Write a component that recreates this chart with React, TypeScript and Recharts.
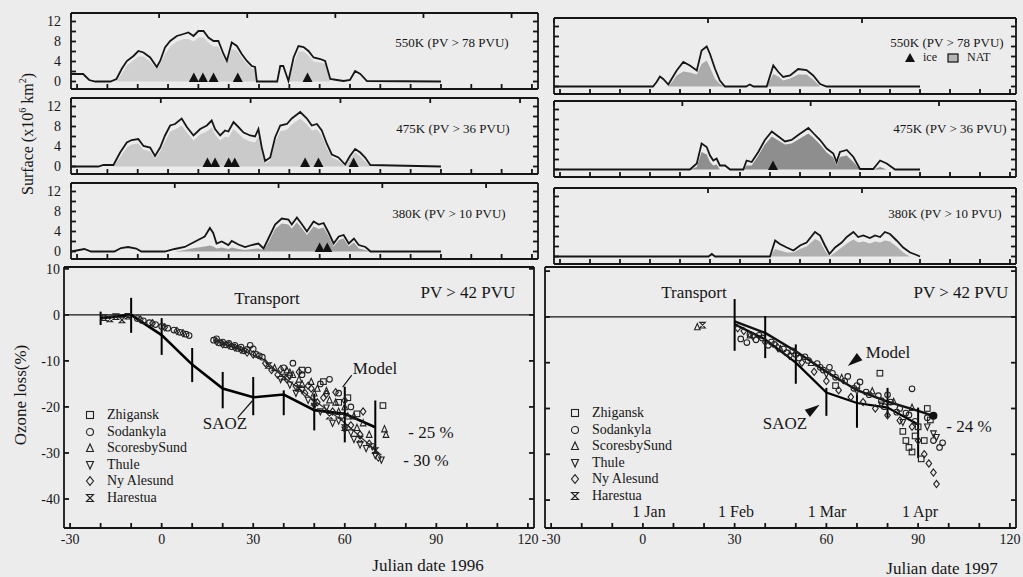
import React from "react";
import {
  ComposedChart,
  Area,
  Line,
  Scatter,
  XAxis,
  YAxis,
  ReferenceLine,
  ErrorBar,
} from "recharts";

const FONT = '"Liberation Serif", "DejaVu Serif", serif';
const INK = "#161616";
const BG = "#ececec";

// shared x axis (Julian day)
const xDomain = [-32, 122];
const xTicks = [-30, -20, -10, 0, 10, 20, 30, 40, 50, 60, 70, 80, 90, 100, 110, 120];
const surfDomain = [-1.5, 13.7];
const surfTicks = [0, 2, 4, 6, 8, 10, 12];
const lossTicks = [-40, -30, -20, -10, 0, 10];

// ---- vortex surface panels (x10^6 km2): days, vortex area, NAT area ----
const lt550Days = [-32, -28, -26, -24, -19, -17, -15.3, -13.6, -11.4, -9.8, -8.1, -5.9, -3.7, -2.6, -1, 0.7, 2.9, 5.1, 6.7, 8.4, 10, 11.7, 13.3, 15, 16.6, 18.3, 19.4, 21, 22.7, 24.3, 26, 27.6, 28.7, 29.3, 30, 36, 37, 38, 39.7, 41.4, 43, 44.7, 46.3, 48, 50.2, 51.8, 53.5, 55.7, 57.9, 60, 61.7, 63.4, 65.6, 90];
const lt550Vortex = [1.5, 1.5, 0.3, 0, 0, 0.5, 2.5, 4.1, 5.1, 6.1, 5.8, 4.8, 2.9, 4.1, 6.8, 8.1, 9.1, 9.5, 9.8, 9.1, 10.1, 10.1, 8.8, 8.1, 8.1, 5.5, 4.1, 7.8, 7.1, 5.5, 4.1, 3.1, 2.9, 0, 0, 0, 3.1, 3.1, 0.1, 4.8, 7.1, 6.9, 6.1, 4.8, 4.5, 4.1, 0.5, 0.3, 0.1, 0.3, 2.1, 1.5, 0.1, 0];
const lt550Nat = [0, 0, 0, 0, 0, 0, 1.5, 3.2, 4.2, 5, 5, 4, 2.5, 3.5, 5.5, 7, 8, 8.5, 8.5, 8, 8.8, 8.8, 7.8, 7, 7, 4.8, 3.6, 6.5, 6.2, 4.8, 3.5, 2.6, 2.4, 0, 0, 0, 0, 0, 0, 3.5, 6, 6, 5.2, 4, 3.8, 3.5, 0, 0, 0, 0, 0, 0, 0, 0];
const lt550Ice = [8.5, 11.5, 15, 23, 46];

const lt475Days = [-32, -23, -21.3, -18, -15.8, -13.6, -12, -9.8, -8.1, -5.9, -4.3, -2.6, -1, 0.7, 2.3, 4.5, 6.2, 8.4, 10.6, 12.8, 14.4, 15.5, 17.2, 18.8, 19.9, 21.6, 23.2, 24.9, 27.1, 28.7, 29.8, 30.9, 32, 33.7, 35.3, 37, 39.2, 40.8, 43.6, 45.8, 47.4, 49.1, 50.7, 52.4, 54, 56.2, 58.4, 60, 61.7, 63.4, 65, 66.7, 90];
const lt475Vortex = [0, 0, 0.3, 0.3, 2.8, 4.8, 5.3, 5.5, 4.1, 3.8, 2.1, 3.8, 6.2, 8.2, 8.5, 9.6, 7.9, 6.2, 7.5, 8.2, 9.2, 7.5, 6.2, 7.2, 7, 8.9, 7.9, 6.8, 6.2, 6, 7.5, 3.8, 1.1, 1.8, 5.8, 8.2, 8.5, 9.6, 10.9, 9.6, 8.2, 8.5, 7.2, 4.5, 2.4, 1.8, 0.4, 2.1, 3.5, 2.8, 1.8, 0.3, 0];
const lt475Nat = [0, 0, 0, 0, 1.8, 3.8, 4.4, 4.6, 3.4, 3, 1.5, 3, 5, 7, 7.4, 8.2, 6.8, 5.2, 6.4, 7, 7.8, 6.4, 5.2, 6, 5.8, 7.5, 6.6, 5.6, 5, 4.8, 6, 2.8, 0.6, 1.2, 4.8, 7, 7.4, 8.4, 9.6, 8.4, 7.2, 7.4, 6.2, 3.6, 1.8, 1.2, 0, 1.4, 2.8, 2, 1, 0, 0];
const lt475Ice = [13, 15.5, 20, 22, 45.2, 49.6, 61.2];

const lt380Days = [-32, -27.6, -25.4, -17.7, -15.5, -13.2, -10.5, -8.8, -1.1, 2.2, 5.5, 7.7, 9.9, 12.1, 13.8, 14.9, 16, 17.7, 19.9, 21, 23.2, 25.4, 27.6, 29.8, 31.5, 33.1, 35.3, 37.5, 39.7, 40.8, 42.5, 44.2, 45.8, 48, 49.7, 51.3, 53, 54.6, 56.3, 57.9, 59.6, 61.3, 62.9, 65.1, 66.8, 90];
const lt380Vortex = [0, 0.5, 0, 0, 0.7, 0.9, 0.6, 0, 0, 0.5, 0.9, 1.6, 2.3, 3, 4.7, 3.7, 1.6, 2, 1.3, 2.1, 1.4, 0.9, 1.3, 1.6, 0.6, 2.6, 5.4, 6.6, 6.4, 5.4, 6.8, 5.4, 4, 6, 5.4, 5.7, 3.7, 1.6, 3, 3.3, 1.6, 2.6, 1.3, 0.9, 0, 0];
const lt380Nat = [0, 0, 0, 0, 0, 0, 0, 0, 0, 0, 0.3, 0.6, 0.8, 1, 1.2, 1, 0.6, 0.8, 0.5, 0.8, 0.5, 0.3, 0.5, 0.6, 0.3, 1.8, 4.5, 5.6, 5.4, 4.6, 5.8, 4.6, 3.3, 5, 4.5, 4.8, 3, 1, 2.3, 2.6, 1, 1.8, 0.6, 0.3, 0, 0];
const lt380Ice = [50, 52.5];

const rt550Days = [-32, 1, 2.2, 3.3, 4.4, 6.1, 7.2, 8.9, 11.1, 13.3, 15.6, 17.2, 18.9, 20, 21.7, 23.3, 25, 32, 33.3, 34.5, 38.9, 41.1, 42.8, 44.4, 46.7, 49.4, 52.2, 54.4, 56.7, 58.9, 90];
const rt550Vortex = [0, 0, 0.9, 2, 1.5, 0.4, 1.5, 3.2, 4.9, 4.2, 3.2, 7.2, 8, 6.5, 3.5, 1.2, 0, 0, 0.4, 0, 0, 4.2, 2.9, 1.9, 2.2, 3.5, 3.3, 2.2, 0.5, 0, 0];
const rt550Nat = [0, 0, 0, 0, 0, 0, 0.8, 2.2, 3, 2.8, 2.4, 4.5, 5.2, 3.8, 1.5, 0.5, 0, 0, 0, 0, 0, 2.5, 2, 1.2, 1.6, 2.4, 2.4, 1.4, 0, 0, 0];

const rt475Days = [-32, 13.3, 15.6, 17.2, 18.9, 20, 21.1, 22.2, 23.3, 25, 26.7, 31.1, 32.2, 33.9, 36.1, 38.3, 40.6, 42.8, 45, 47.2, 49.4, 51.1, 52.8, 54.4, 56.7, 58.9, 61.1, 62.2, 63.3, 65.6, 67.8, 70, 74.4, 76.7, 78.9, 81.7, 90];
const rt475Vortex = [0, 0, 1.2, 5.2, 4.5, 2.8, 1.8, 2.2, 0.8, 0.8, 0, 0, 1.8, 1.5, 3.5, 5.9, 7.6, 6.6, 5.6, 5.9, 6.9, 7.6, 8.3, 7.3, 5.9, 4.2, 3.2, 1.5, 3.5, 3.9, 2.5, 0.1, 0.1, 1.8, 1.2, 0, 0];
const rt475Nat = [0, 0, 0.5, 3.5, 3, 1.5, 0.8, 1, 0, 0, 0, 0, 0.8, 0.8, 2.8, 5, 6.6, 5.8, 5, 5.2, 6, 6.6, 7.2, 6.4, 5, 3.4, 2.4, 0.8, 2.5, 2.8, 1.5, 0, 0, 0.5, 0, 0, 0];
const rt475Ice = [41];

const rt380Days = [-32, 19.5, 20.6, 21.7, 40, 41.7, 43.3, 45.6, 47.8, 50, 52.2, 55, 56.7, 58.3, 59.8, 61.7, 63.9, 65.6, 67.8, 69.4, 71.1, 73.3, 75, 76.7, 78.3, 80, 82.2, 84.4, 86.7, 88.9, 90];
const rt380Vortex = [0, 0, 0.5, 0, 0, 3.2, 2.5, 1.8, 1.2, 2.2, 2.8, 4.9, 4.2, 2.2, 0.5, 1.8, 2.8, 3.9, 4.9, 3.9, 4.2, 3.7, 4.2, 3.9, 4.9, 4.5, 3.2, 1.8, 0.8, 0.3, 0];
const rt380Nat = [0, 0, 0, 0, 0, 1.5, 1.2, 0.8, 0.8, 1.5, 2, 3.5, 3, 1.2, 0, 0.8, 1.8, 2.6, 3.4, 2.8, 3, 2.6, 3, 2.8, 3.2, 3, 2, 0.8, 0, 0, 0];

// ---- ozone loss (%) ----
const saoz96Days = [-20, -10, 0, 10, 20, 30, 40, 50, 60, 70];
const saoz96 = [-0.7, 0, -4.4, -10.8, -16, -17.9, -17.3, -20.7, -21.5, -24.4];
const saoz96Lo = [-2.2, -3.9, -8.7, -14.6, -20.3, -21.8, -21.8, -25.1, -27.7, -30.2];
const saoz96Hi = [0.7, 3.7, -0.7, -7.2, -12.4, -13.5, -16.4, -17.1, -15.6, -18.6];
const model96Days = [17, 25, 33, 40, 50, 59, 66, 72];
const model96 = [-5.5, -7.4, -9.5, -13.5, -18.6, -22.9, -27, -30.5];

const saoz97Days = [30, 40, 50, 60, 70, 80, 90];
const saoz97 = [-1.6, -4.9, -10, -16.5, -18.8, -19.8, -23.5];
const saoz97Lo = [-7.4, -9, -14.6, -21.6, -24.2, -22, -30.8];
const saoz97Hi = [3.9, 0.2, -6, -15.5, -16.9, -15.5, -19.8];
const model97Days = [30, 40, 50, 60, 70, 80, 90, 95];
const model97 = [-1, -3.5, -7.5, -12, -16, -18.5, -20.5, -21.6];
const model97End = [[95, -21.6]];

const zhigansk96 = [[46, -12], [53, -14.5], [58, -19], [61, -18], [64, -21.5], [72.5, -19.7]];
const sodankyla96 = [[-8, -0.8], [-6, -1.3], [-4, -1.7], [-2, -2.1], [0, -2.5], [2, -2.9], [4, -3.3], [6, -3.8], [8, -4.2], [9, -4.5], [17, -5.5], [18, -5.2], [19, -6.1], [20, -5.9], [21, -6.5], [22, -6.2], [23, -6.9], [24, -6.6], [25, -7.3], [26, -7], [27, -7.8], [28, -7.5], [29, -6.6], [30, -7.4], [31, -8.6], [32, -8.9], [33, -9.2], [40, -11.5], [43, -10.5], [46, -13], [48, -12], [52, -15], [55, -14], [58, -17], [62, -20]];
const scoresby96 = [[37, -11.5], [41, -12], [42, -12.5], [43, -13], [45, -14], [46, -15], [49, -14.5], [50, -17], [51, -16], [54, -16.5], [55, -18.5], [57, -19], [58, -21], [60, -20], [61, -22], [63, -22], [64, -24.5], [66, -23.5], [68, -26], [73, -24.8], [73.5, -26]];
const thule96 = [[39, -14], [42, -15.2], [44, -17], [46, -16.4], [48, -18.5], [50, -19.8], [52, -21], [54, -20.2], [56, -23.5], [58, -23], [60, -25], [62, -25.6], [63, -27], [65, -28.2], [67, -29], [69, -28.6], [70, -30.5], [72, -31.5]];
const nyalesund96 = [[-7, -1], [-3, -1.8], [1, -2.7], [5, -3.5], [7, -4], [18, -5.8], [20, -6.4], [22, -6.6], [24, -7.1], [26, -7.6], [28, -8.2], [30, -8.6], [34, -10.5], [36, -12], [38, -13], [39, -11.8], [41, -14], [42, -13.2], [44, -15.5], [45, -12.4], [47, -17], [48, -15.4], [49, -16], [51, -19], [53, -18], [54, -17.2], [56, -21], [57, -16.8], [59, -22], [60, -18.6], [62, -24], [65, -26], [66, -21], [68, -28], [71, -31]];
const harestua96 = [[-19, -0.6], [-17, -0.9], [-15, -0.4], [-13, -1.1], [-11, -0.3], [35, -11], [40, -13.5], [45, -16], [50, -19], [55, -22], [60, -24.5], [65, -27], [70, -29.5]];

const zhigansk97 = [[63, -15], [77.5, -12.3], [85, -25], [86, -27], [87, -28.5], [88, -29.5], [89, -26], [90, -24], [93, -20], [94, -22.5], [91, -31], [92, -27]];
const sodankyla97 = [[32, -4.8], [34, -5.6], [35, -3.8], [37, -5], [38, -4], [39, -4.6], [41, -6.2], [42, -5.5], [43, -6], [46, -7], [47, -7.8], [49, -7.4], [50, -8.2], [51, -9], [53, -8.7], [54, -9.5], [57, -10.2], [58, -11], [59, -11.6], [61, -11], [62, -12.3], [63, -13.2], [66, -14], [67, -13], [69, -15.6], [70, -15], [71, -14.2], [73, -16.4], [74, -17], [77, -17.2], [78, -18.3], [79, -19.6], [80, -17], [81, -18.6], [83, -20.8], [84, -20], [86, -21], [87, -21.4], [88, -15.7], [89, -22.8], [93, -22], [95, -27], [97, -28.5], [98, -27.5]];
const scoresby97 = [[17.8, -2.2], [35, -4], [45, -7], [55, -10], [65, -13.3], [75, -16.2], [82, -18.5], [88, -19.8]];
const thule97 = [[60, -12.5], [70, -16.2], [78, -19.2], [85, -23], [93, -24], [95, -25.5], [96, -26.3]];
const nyalesund97 = [[31, -2.5], [33, -3.1], [36, -4.2], [40, -5.5], [44, -6.6], [48, -8.5], [52, -10], [56, -12], [60, -14], [64, -16], [68, -17.5], [72, -18.6], [76, -20], [80, -21.5], [84, -22.6], [88, -24], [90, -27], [92, -30], [93.5, -32], [95, -34], [96, -36.5]];
const harestua97 = [[19.5, -1.8]];

const stations = ["Zhigansk", "Sodankyla", "ScoresbySund", "Thule", "Ny Alesund", "Harestua"];
const stationMarks = ["square", "circle", "up", "down", "diamond", "hourglass"];

// pointer annotations
const arrows96 = [
  [[62.3, -13.1], [59.3, -15.7]],
  [[24.9, -22.3], [29.8, -18.6]],
];
const arrowHeads97 = [
  { d: 67, v: -10.7, a: 142 },
  { d: 57.8, v: -19.2, a: -35 },
];

const series = (days: number[], vortex: number[], nat: number[]) =>
  days.map((d, i) => ({ d, v: vortex[i], n: nat[i] }));
const pts = (arr: number[][]) => arr.map(([d, v]) => ({ d, v }));
const ice = (days: number[]) => days.map((d) => ({ d, v: 0.8 }));
const errSeries = (days: number[], v: number[], lo: number[], hi: number[]) =>
  days.map((d, i) => ({ d, v: v[i], err: [v[i] - lo[i], hi[i] - v[i]] }));

function mark(kind: string, cx: number, cy: number, s = 2.8) {
  const p = { fill: "none", stroke: "#222", strokeWidth: 1.1 };
  switch (kind) {
    case "square":
      return <rect x={cx - s} y={cy - s} width={2 * s} height={2 * s} {...p} />;
    case "circle":
      return <circle cx={cx} cy={cy} r={s} {...p} />;
    case "up":
      return <polygon points={`${cx},${cy - s - 0.6} ${cx - s},${cy + s} ${cx + s},${cy + s}`} {...p} />;
    case "down":
      return <polygon points={`${cx},${cy + s + 0.6} ${cx - s},${cy - s} ${cx + s},${cy - s}`} {...p} />;
    case "diamond":
      return <polygon points={`${cx},${cy - s - 0.8} ${cx + s},${cy} ${cx},${cy + s + 0.8} ${cx - s},${cy}`} {...p} />;
    default:
      return <polygon points={`${cx - s},${cy - s} ${cx + s},${cy - s} ${cx - s},${cy + s} ${cx + s},${cy + s}`} {...p} />;
  }
}

const IceMark = (p: any) => (
  <polygon points={`${p.cx},${p.cy - 5} ${p.cx - 5},${p.cy + 4.5} ${p.cx + 5},${p.cy + 4.5}`} fill="#111" />
);
const Wedge = (p: any) => (
  <polygon
    points="0,0 -15,-4.5 -15,4.5"
    fill="#111"
    transform={`translate(${p.cx},${p.cy}) rotate(${p.payload.a})`}
  />
);
const EndDot = (p: any) => <circle cx={p.cx} cy={p.cy} r={4} fill="#111" />;

const PAD_L = 44;
const PAD_R = 6;
const PAD_T = 6;
const FRAME_W = 1.8;
const tickStyle = { fill: INK, fontSize: 14, fontFamily: FONT };
const blank = () => "";

type Box = { x: number; y: number; w: number; h: number };

function Panel(props: {
  box: Box;
  padB: number;
  data?: any[];
  yDomain: number[];
  yTicks: number[];
  yMargin: number;
  xFormat?: (v: number) => string;
  yFormat?: (v: number) => string;
  children?: React.ReactNode;
}) {
  const { box, padB, data, yDomain, yTicks, yMargin, xFormat, yFormat, children } = props;
  return (
    <div style={{ position: "absolute", left: box.x - PAD_L, top: box.y - PAD_T }}>
      <ComposedChart
        width={box.w + PAD_L + PAD_R}
        height={box.h + PAD_T + padB}
        data={data}
        margin={{ top: PAD_T - 1, right: PAD_R - 1, bottom: 0, left: 0 }}
      >
        <XAxis
          dataKey="d"
          type="number"
          domain={xDomain}
          ticks={xTicks}
          interval={0}
          allowDataOverflow
          height={padB}
          stroke={INK}
          strokeWidth={FRAME_W}
          tickSize={-5}
          tickMargin={11}
          tick={tickStyle}
          tickFormatter={xFormat ?? blank}
        />
        <XAxis
          xAxisId="top"
          orientation="top"
          type="number"
          domain={xDomain}
          ticks={xTicks}
          interval={0}
          allowDataOverflow
          height={1}
          stroke={INK}
          strokeWidth={FRAME_W}
          tickSize={-5}
          tick={tickStyle}
          tickFormatter={blank}
        />
        <YAxis
          type="number"
          domain={yDomain}
          ticks={yTicks}
          interval={0}
          allowDataOverflow
          width={PAD_L}
          stroke={INK}
          strokeWidth={FRAME_W}
          tickSize={-5}
          tickMargin={yMargin}
          tick={tickStyle}
          tickFormatter={yFormat ?? blank}
        />
        <YAxis
          yAxisId="right"
          orientation="right"
          type="number"
          domain={yDomain}
          ticks={yTicks}
          interval={0}
          allowDataOverflow
          width={1}
          stroke={INK}
          strokeWidth={FRAME_W}
          tickSize={-5}
          tick={tickStyle}
          tickFormatter={blank}
        />
        {children}
      </ComposedChart>
    </div>
  );
}

function SurfacePanel(props: {
  box: Box;
  days: number[];
  vortex: number[];
  nat: number[];
  natFill: string;
  iceDays?: number[];
  labels: boolean;
}) {
  const { box, days, vortex, nat, natFill, iceDays, labels } = props;
  return (
    <Panel
      box={box}
      padB={6}
      data={series(days, vortex, nat)}
      yDomain={surfDomain}
      yTicks={surfTicks}
      yMargin={15}
      yFormat={labels ? (v) => (v % 4 === 0 ? String(v) : "") : undefined}
    >
      <Area type="linear" dataKey="n" stroke="none" fill={natFill} fillOpacity={1} isAnimationActive={false} />
      <Line type="linear" dataKey="v" stroke={INK} strokeWidth={1.8} dot={false} isAnimationActive={false} />
      {iceDays && (
        <Scatter data={ice(iceDays)} dataKey="v" shape={IceMark} isAnimationActive={false} />
      )}
    </Panel>
  );
}

function Stations(sets: number[][][]) {
  return sets.map((set, i) => (
    <Scatter
      key={stations[i]}
      data={pts(set)}
      dataKey="v"
      shape={(p: any) => mark(stationMarks[i], p.cx, p.cy)}
      isAnimationActive={false}
    />
  ));
}

function Txt(props: { x: number; y: number; size?: number; rotate?: number; children: React.ReactNode }) {
  const { x, y, size = 14, rotate, children } = props;
  return (
    <div
      style={{
        position: "absolute",
        left: x,
        top: y,
        transform: `translate(-50%, -50%)${rotate ? ` rotate(${rotate}deg)` : ""}`,
        fontFamily: FONT,
        fontSize: size,
        color: INK,
        whiteSpace: "nowrap",
        lineHeight: 1,
      }}
    >
      {children}
    </div>
  );
}

function StationLegend(props: { x: number; y: number }) {
  return (
    <div style={{ position: "absolute", left: props.x, top: props.y, fontFamily: FONT, fontSize: 14, color: INK }}>
      {stations.map((s, i) => (
        <div key={s} style={{ display: "flex", alignItems: "center", height: 16.5, whiteSpace: "nowrap" }}>
          <svg width={12} height={12} style={{ marginRight: 11 }}>
            {mark(stationMarks[i], 6, 6, 3.5)}
          </svg>
          <span>{s}</span>
        </div>
      ))}
    </div>
  );
}

const xFmt = (v: number) => (v % 30 === 0 ? String(v) : "");
const lossFmt = (v: number) => String(v);

export default function App() {
  return (
    <div style={{ position: "absolute", left: 0, top: 0, width: 1023, height: 577, background: BG, overflow: "hidden" }}>
      <SurfacePanel box={{ x: 71, y: 13, w: 467, h: 76 }} days={lt550Days} vortex={lt550Vortex} nat={lt550Nat} natFill="#d0d0d0" iceDays={lt550Ice} labels />
      <SurfacePanel box={{ x: 71, y: 98, w: 467, h: 76 }} days={lt475Days} vortex={lt475Vortex} nat={lt475Nat} natFill="#cacaca" iceDays={lt475Ice} labels />
      <SurfacePanel box={{ x: 71, y: 183, w: 467, h: 76 }} days={lt380Days} vortex={lt380Vortex} nat={lt380Nat} natFill="#a2a2a2" iceDays={lt380Ice} labels />
      <SurfacePanel box={{ x: 554, y: 18, w: 462, h: 76 }} days={rt550Days} vortex={rt550Vortex} nat={rt550Nat} natFill="#ababab" labels={false} />
      <SurfacePanel box={{ x: 554, y: 101, w: 462, h: 76 }} days={rt475Days} vortex={rt475Vortex} nat={rt475Nat} natFill="#8e8e8e" iceDays={rt475Ice} labels={false} />
      <SurfacePanel box={{ x: 554, y: 188, w: 462, h: 76 }} days={rt380Days} vortex={rt380Vortex} nat={rt380Nat} natFill="#b0b0b0" labels={false} />

      <Panel box={{ x: 64, y: 267, w: 470, h: 261 }} padB={28} yDomain={[-46.3, 10.4]} yTicks={lossTicks} yMargin={9} xFormat={xFmt} yFormat={lossFmt}>
        <ReferenceLine y={0} stroke={INK} strokeWidth={1.4} />
        {Stations([zhigansk96, sodankyla96, scoresby96, thule96, nyalesund96, harestua96])}
        <Line data={model96Days.map((d, i) => ({ d, v: model96[i] }))} dataKey="v" stroke="#333" strokeWidth={1.3} dot={false} isAnimationActive={false} />
        <Line data={errSeries(saoz96Days, saoz96, saoz96Lo, saoz96Hi)} dataKey="v" stroke="#000" strokeWidth={2.6} dot={false} isAnimationActive={false}>
          <ErrorBar dataKey="err" width={0} stroke="#000" strokeWidth={2} direction="y" />
        </Line>
        {arrows96.map((seg, i) => (
          <ReferenceLine key={i} segment={seg.map(([x, y]) => ({ x, y }))} stroke={INK} strokeWidth={1.2} ifOverflow="visible" />
        ))}
      </Panel>

      <Panel box={{ x: 545, y: 267, w: 471, h: 261 }} padB={28} yDomain={[-46.1, 10.9]} yTicks={lossTicks} yMargin={9} xFormat={xFmt}>
        <ReferenceLine y={0} stroke={INK} strokeWidth={1.4} />
        {Stations([zhigansk97, sodankyla97, scoresby97, thule97, nyalesund97, harestua97])}
        <Line data={model97Days.map((d, i) => ({ d, v: model97[i] }))} dataKey="v" stroke="#111" strokeWidth={2.4} dot={false} isAnimationActive={false} />
        <Line data={errSeries(saoz97Days, saoz97, saoz97Lo, saoz97Hi)} dataKey="v" stroke="#000" strokeWidth={2.2} dot={false} isAnimationActive={false}>
          <ErrorBar dataKey="err" width={0} stroke="#000" strokeWidth={2} direction="y" />
        </Line>
        <Scatter data={pts(model97End)} dataKey="v" shape={EndDot} isAnimationActive={false} />
        <Scatter data={arrowHeads97} dataKey="v" shape={Wedge} isAnimationActive={false} />
      </Panel>

      {/* panel captions */}
      <Txt x={452} y={42} size={13}>550K (PV &gt; 78 PVU)</Txt>
      <Txt x={453} y={128} size={13}>475K (PV &gt; 36 PVU)</Txt>
      <Txt x={449} y={213} size={13}>380K (PV &gt; 10 PVU)</Txt>
      <Txt x={947} y={42} size={13}>550K (PV &gt; 78 PVU)</Txt>
      <div style={{ position: "absolute", left: 905, top: 50, display: "flex", alignItems: "center", fontFamily: FONT, fontSize: 12, color: INK, whiteSpace: "nowrap" }}>
        <svg width={10} height={10}><polygon points="5,0 0,9 10,9" fill="#111" /></svg>
        <span style={{ margin: "0 10px 0 8px" }}>ice</span>
        <svg width={12} height={10}><rect x={1} y={1} width={10} height={8} fill="#b5b5b5" stroke="#111" strokeWidth={1.2} /></svg>
        <span style={{ marginLeft: 8 }}>NAT</span>
      </div>
      <Txt x={950} y={128} size={13}>475K (PV &gt; 36 PVU)</Txt>
      <Txt x={945} y={213} size={13}>380K (PV &gt; 10 PVU)</Txt>

      <Txt x={27} y={134} size={16} rotate={-90}>Surface (x10<sup style={{ fontSize: 10 }}>6</sup> km<sup style={{ fontSize: 10 }}>2</sup>)</Txt>
      <Txt x={20} y={395} size={17} rotate={-90}>Ozone loss(%)</Txt>

      {/* 1996 annotations */}
      <Txt x={267} y={298} size={17}>Transport</Txt>
      <Txt x={468} y={292} size={17}>PV &gt; 42 PVU</Txt>
      <Txt x={375} y={368} size={17}>Model</Txt>
      <Txt x={225} y={423} size={17}>SAOZ</Txt>
      <Txt x={431} y={432} size={17}>- 25 %</Txt>
      <Txt x={426} y={460} size={17}>- 30 %</Txt>
      <StationLegend x={84} y={407} />
      <Txt x={428} y={565} size={17}>Julian date 1996</Txt>

      {/* 1997 annotations */}
      <Txt x={694} y={292} size={17}>Transport</Txt>
      <Txt x={961} y={292} size={17}>PV &gt; 42 PVU</Txt>
      <Txt x={888} y={352} size={17}>Model</Txt>
      <Txt x={785} y={423} size={17}>SAOZ</Txt>
      <Txt x={969} y={426} size={17}>- 24 %</Txt>
      <StationLegend x={569} y={405} />
      <Txt x={649} y={512} size={16}>1 Jan</Txt>
      <Txt x={736} y={512} size={16}>1 Feb</Txt>
      <Txt x={827} y={512} size={16}>1 Mar</Txt>
      <Txt x={920} y={512} size={16}>1 Apr</Txt>
      <Txt x={942} y={568} size={17}>Julian date 1997</Txt>
    </div>
  );
}
